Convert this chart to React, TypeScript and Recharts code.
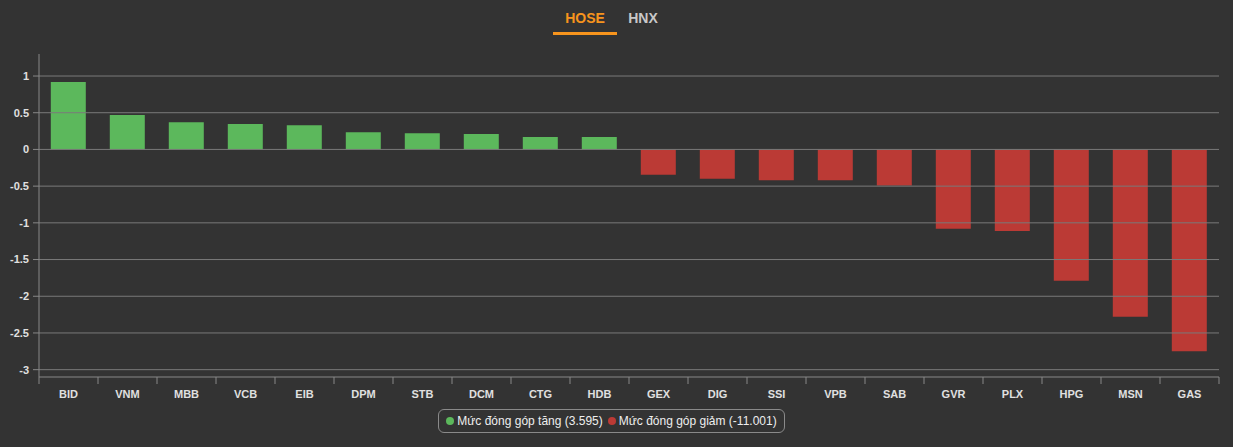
import { Bar, BarChart, Cell, ReferenceLine, XAxis, YAxis } from "recharts";

const tickers = [
  "BID", "VNM", "MBB", "VCB", "EIB", "DPM", "STB", "DCM", "CTG", "HDB",
  "GEX", "DIG", "SSI", "VPB", "SAB", "GVR", "PLX", "HPG", "MSN", "GAS",
];
const contributions = [
  0.92, 0.47, 0.37, 0.345, 0.33, 0.235, 0.22, 0.21, 0.17, 0.17,
  -0.345, -0.4, -0.42, -0.42, -0.49, -1.08, -1.11, -1.79, -2.28, -2.75,
];
const yTicks = [1, 0.5, 0, -0.5, -1, -1.5, -2, -2.5, -3];
const tabs = ["HOSE", "HNX"];
const legendItems = [
  { label: "Mức đóng góp tăng (3.595)", color: "#5cb85c" },
  { label: "Mức đóng góp giảm (-11.001)", color: "#bb3a35" },
];

const data = tickers.map((t, i) => ({ ticker: t, value: contributions[i] }));

const FONT = "'Liberation Sans', Arial, sans-serif";
const BAND = 59;

function XTick(props: any) {
  const { x, y, payload, index } = props;
  const last = index === tickers.length - 1;
  return (
    <g>
      <line x1={x - BAND / 2} x2={x - BAND / 2} y1={y - 8} y2={y - 1} stroke="#888" />
      {last && <line x1={x + BAND / 2} x2={x + BAND / 2} y1={y - 8} y2={y - 1} stroke="#888" />}
      <text
        x={x}
        y={y + 13}
        textAnchor="middle"
        fill="#e0e0e0"
        fontSize={11}
        fontWeight="bold"
        fontFamily={FONT}
      >
        {payload.value}
      </text>
    </g>
  );
}

export default function App() {
  return (
    <div
      style={{
        position: "relative",
        width: 1233,
        height: 447,
        background: "#333333",
        fontFamily: FONT,
      }}
    >
      <style>{"body{margin:0;background:#333333}"}</style>
      <div style={{ position: "absolute", top: 10, left: 553, display: "flex" }}>
        {tabs.map((t, i) => (
          <div
            key={t}
            style={{
              width: i === 0 ? 64 : 52,
              textAlign: "center",
              fontSize: 14,
              fontWeight: "bold",
              color: i === 0 ? "#f7941d" : "#c8c8c8",
              paddingBottom: 6,
              borderBottom: i === 0 ? "3px solid #f7941d" : "3px solid transparent",
            }}
          >
            {t}
          </div>
        ))}
      </div>
      <BarChart
        width={1233}
        height={447}
        data={data}
        margin={{ top: 54, right: 14, left: 0, bottom: 40 }}
        barCategoryGap="20%"
        style={{ position: "absolute", top: 0, left: 0 }}
      >
        <XAxis
          dataKey="ticker"
          height={30}
          axisLine={{ stroke: "#888" }}
          tickLine={false}
          interval={0}
          tick={<XTick />}
        />
        <YAxis
          width={39}
          domain={[-3.1, 1.3]}
          ticks={yTicks}
          allowDataOverflow
          axisLine={{ stroke: "#888" }}
          tickLine={{ stroke: "#888" }}
          tickSize={6}
          tickMargin={4}
          tick={{ fill: "#e0e0e0", fontSize: 11, fontWeight: "bold", fontFamily: FONT }}
        />
        {yTicks.map((t) => (
          <ReferenceLine key={t} y={t} stroke="#7a7a7a" />
        ))}
        <Bar dataKey="value" isAnimationActive={false}>
          {data.map((d) => (
            <Cell key={d.ticker} fill={d.value >= 0 ? legendItems[0].color : legendItems[1].color} />
          ))}
        </Bar>
      </BarChart>
      <div
        style={{
          position: "absolute",
          top: 409,
          left: 438,
          width: 345,
          height: 22,
          border: "1px solid #8a8a8a",
          borderRadius: 6,
          display: "flex",
          alignItems: "center",
          justifyContent: "center",
          gap: 5,
          fontSize: 12,
          color: "#eeeeee",
        }}
      >
        {legendItems.map((it) => (
          <span key={it.label} style={{ display: "flex", alignItems: "center", gap: 3 }}>
            <span
              style={{
                width: 8,
                height: 8,
                borderRadius: 4,
                background: it.color,
                display: "inline-block",
              }}
            />
            {it.label}
          </span>
        ))}
      </div>
    </div>
  );
}
